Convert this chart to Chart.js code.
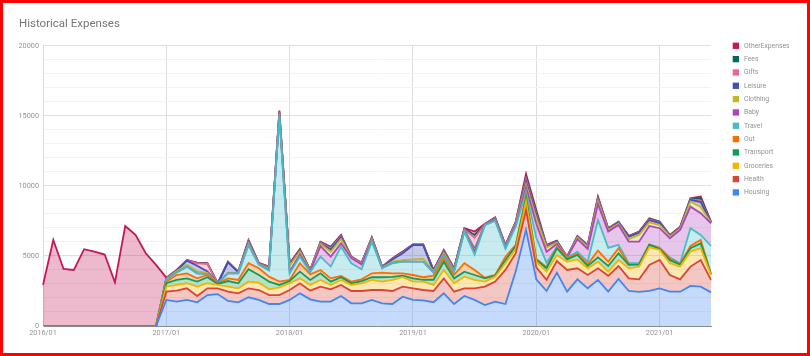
<!DOCTYPE html>
<html>
<head>
<meta charset="utf-8">
<script src="https://cdn.jsdelivr.net/npm/chart.js@4"></script>
<style>
  html, body { margin: 0; padding: 0; background: #fff; }
  #wrap { position: relative; width: 810px; height: 356px; overflow: hidden; }
  #c { position: absolute; left: 0; top: 0; }
  #frame { position: absolute; left: 0; top: 0; width: 810px; height: 356px; box-sizing: border-box; border: 3px solid #ff0000; pointer-events: none; }
</style>
</head>
<body>
<div id="wrap">
  <canvas id="c" width="810" height="356"></canvas>
  <div id="frame"></div>
</div>
<script>
const categories = [
  '2016/01','2016/02','2016/03','2016/04','2016/05','2016/06','2016/07','2016/08','2016/09','2016/10','2016/11','2016/12',
  '2017/01','2017/02','2017/03','2017/04','2017/05','2017/06','2017/07','2017/08','2017/09','2017/10','2017/11','2017/12',
  '2018/01','2018/02','2018/03','2018/04','2018/05','2018/06','2018/07','2018/08','2018/09','2018/10','2018/11','2018/12',
  '2019/01','2019/02','2019/03','2019/04','2019/05','2019/06','2019/07','2019/08','2019/09','2019/10','2019/11','2019/12',
  '2020/01','2020/02','2020/03','2020/04','2020/05','2020/06','2020/07','2020/08','2020/09','2020/10','2020/11','2020/12',
  '2021/01','2021/02','2021/03','2021/04','2021/05','2021/06'
];

const housing = [0,0,0,0,0,0,0,0,0,0,0,0,
  1860,1740,1860,1690,2210,2280,1790,1690,2050,1860,1570,1570,
  1860,2330,1900,1740,1740,2140,1620,1620,1860,1620,1570,2090,
  1860,1830,1700,2330,1570,2140,1860,1500,1740,1570,3900,6860,
  3330,2500,3810,2450,3330,2690,3290,2450,3360,2500,2430,2500,
  2690,2450,2450,2860,2810,2400];
const health = [0,0,0,0,0,0,0,0,0,0,0,0,
  590,780,830,450,480,410,660,640,640,710,640,640,
  710,720,620,1070,880,790,880,880,710,950,930,720,
  830,740,800,1070,880,550,830,1310,1430,2430,1300,1420,
  860,790,830,1550,790,950,830,1130,920,900,900,1860,
  2020,1190,880,1380,1900,890];
const groceries = [0,0,0,0,0,0,0,0,0,0,0,0,
  360,410,360,670,360,240,360,360,480,530,410,550,
  480,350,410,480,310,360,430,550,720,600,790,670,
  480,600,430,600,600,830,600,360,350,480,300,600,
  410,590,430,590,630,480,470,300,430,720,910,1260,
  720,840,910,1070,840,350];
const transport = [0,0,0,0,0,0,0,0,0,0,0,0,
  240,360,350,360,430,70,400,360,880,540,550,170,
  160,480,360,470,240,190,120,160,190,310,210,120,
  230,130,370,590,350,360,350,230,80,230,200,240,
  110,240,480,170,320,160,310,400,480,240,140,170,
  70,220,140,240,350,60];
const out = [0,0,0,0,0,0,0,0,0,0,0,0,
  110,350,360,230,160,30,190,240,430,480,350,240,
  80,600,400,240,230,90,120,120,280,330,260,160,
  240,180,300,210,240,600,360,50,50,240,100,180,
  90,80,50,90,80,120,480,320,360,40,40,20,
  50,100,50,160,240,20];
const travel = [0,0,0,0,0,0,0,0,0,0,0,0,
  140,180,480,360,60,10,360,470,1310,260,440,11830,
  470,470,160,950,840,2090,1310,720,2260,310,720,830,
  950,1110,200,200,210,2260,1100,3750,3850,550,1300,290,
  1500,300,50,30,150,190,2190,980,240,80,60,20,
  50,100,50,1270,360,1990];
const baby = [0,0,0,0,0,0,0,0,0,0,0,0,
  20,0,0,0,0,0,0,0,10,10,40,50,
  140,150,50,750,710,240,370,350,80,20,20,10,
  10,10,20,50,50,30,200,20,50,100,150,310,
  1000,800,200,20,900,910,1130,1160,1420,1540,1540,1310,
  1380,1360,2380,1540,1550,1620];
const clothing = [0,0,0,0,0,0,0,0,0,0,0,0,
  30,80,120,140,100,0,40,60,100,30,100,100,
  400,200,30,150,350,300,30,50,100,40,100,100,
  150,200,80,150,80,50,100,20,50,70,80,200,
  400,300,100,20,100,150,200,110,90,180,480,260,
  220,120,90,360,450,30];
const leisure = [0,0,0,0,0,0,0,0,0,0,0,0,
  30,40,310,400,100,0,750,20,100,20,50,50,
  50,50,20,50,150,150,20,20,50,20,150,500,
  1030,970,40,100,50,30,100,10,50,30,30,200,
  200,50,50,10,50,50,100,50,50,180,150,150,
  150,40,50,120,350,20];
const gifts = [0,0,0,0,0,0,0,0,0,0,0,0,
  20,20,20,180,540,0,20,20,80,20,50,80,
  50,50,20,50,100,70,20,20,30,10,30,50,
  20,20,20,50,30,50,800,10,50,40,30,200,
  100,50,30,10,30,30,100,30,40,20,40,50,
  40,30,30,50,100,20];
const fees = [0,0,0,0,0,0,0,0,0,0,0,0,
  20,10,10,20,20,0,10,10,20,10,10,20,
  30,40,10,30,50,30,10,10,20,10,20,30,
  10,10,10,30,20,40,200,10,20,20,20,100,
  100,30,20,5,20,20,50,20,30,15,20,40,
  30,20,30,30,150,20];
const otherExpenses = [2930,6140,4070,4000,5480,5310,5100,3120,7140,6500,5190,4360,
  30,30,10,20,20,10,10,10,40,30,30,80,
  50,60,20,40,60,50,20,20,30,20,30,30,
  20,30,30,50,40,40,240,30,40,30,40,250,
  180,60,40,5,30,40,90,30,30,15,30,50,
  30,30,30,40,140,30];

const seriesNames = ['Housing','Health','Groceries','Transport','Out','Travel','Baby','Clothing','Leisure','Gifts','Fees','OtherExpenses'];
const seriesData = [housing, health, groceries, transport, out, travel, baby, clothing, leisure, gifts, fees, otherExpenses];
const seriesColors = ['#4285f4','#db4437','#f4b400','#0f9d58','#ff6d00','#46bdc6','#ab47bc','#c2b72c','#3f51b5','#f06292','#00695c','#c2185b'];
const yTickStep = 1000;
const yLabelStep = 5000;

function rgba(hex, a) {
  const n = parseInt(hex.slice(1), 16);
  return 'rgba(' + ((n >> 16) & 255) + ',' + ((n >> 8) & 255) + ',' + (n & 255) + ',' + a + ')';
}

const datasets = seriesNames.map((name, i) => ({
  label: name,
  data: seriesData[i],
  borderColor: seriesColors[i],
  backgroundColor: rgba(seriesColors[i], 0.3),
  borderWidth: 1.8,
  pointRadius: 0,
  pointHoverRadius: 0,
  tension: 0,
  fill: i === 0 ? 'origin' : '-1'
}));

const sideLegend = {
  id: 'sideLegend',
  afterDraw(chart) {
    const c = chart.ctx;
    const ds = chart.data.datasets;
    c.save();
    c.font = '6.8px Roboto';
    c.textBaseline = 'middle';
    c.textAlign = 'left';
    for (let k = 0; k < ds.length; k++) {
      const d = ds[ds.length - 1 - k];
      const y = 45.8 + k * 13.33;
      c.fillStyle = d.borderColor;
      c.fillRect(732.7, y - 3.15, 6.3, 6.3);
      c.fillStyle = '#929292';
      c.fillText(d.label, 744, y + 0.3);
    }
    c.restore();
  }
};

new Chart(document.getElementById('c'), {
  type: 'line',
  data: { labels: categories, datasets: datasets },
  options: {
    responsive: false,
    animation: false,
    devicePixelRatio: 1,
    events: [],
    layout: { padding: { left: 19, right: 99, top: 0, bottom: 0 } },
    plugins: {
      legend: { display: false },
      tooltip: { enabled: false },
      title: {
        display: true,
        text: 'Historical Expenses',
        align: 'start',
        color: '#757575',
        font: { family: 'Roboto', size: 11.5, weight: 'normal', lineHeight: 1.2 },
        padding: { top: 17, bottom: 15 }
      }
    },
    scales: {
      x: {
        grid: {
          color: (ctx) => (ctx.index % 12 === 0 ? '#dddddd' : 'rgba(0,0,0,0)'),
          drawTicks: false
        },
        border: { color: '#8a8a8a' },
        ticks: {
          autoSkip: false,
          maxRotation: 0,
          minRotation: 0,
          padding: 3,
          color: '#949494',
          font: { family: 'Roboto', size: 7.3 },
          callback: (v, i) => (categories[i].endsWith('/01') ? categories[i] : '')
        },
        afterFit: (a) => { a.height = 30; }
      },
      y: {
        stacked: true,
        min: 0,
        max: 20000,
        grid: {
          color: (ctx) => (ctx.tick && ctx.tick.value % yLabelStep === 0 ? '#e0e0e0' : '#f2f2f2'),
          drawTicks: false
        },
        border: { color: '#dddddd' },
        ticks: {
          stepSize: yTickStep,
          padding: 4,
          color: '#949494',
          font: { family: 'Roboto', size: 7.3 },
          callback: (v) => (v % yLabelStep === 0 ? String(v) : '')
        },
        afterFit: (a) => { a.width = 24; }
      }
    }
  },
  plugins: [sideLegend]
});
</script>
</body>
</html>
